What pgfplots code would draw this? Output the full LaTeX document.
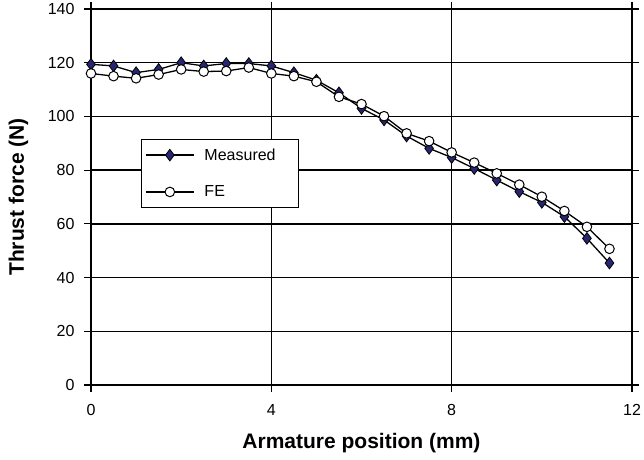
\documentclass[border=0pt]{standalone}
\usepackage{fontspec}
\setmainfont{Liberation Sans}
\usepackage{pgfplots}
\pgfplotsset{compat=1.18}
\definecolor{navy}{HTML}{262673}

\begin{document}
\begin{tikzpicture}
\begin{axis}[
  name=ax,
  scale only axis,
  width=541pt, height=376pt,
  xmin=0, xmax=12, ymin=0, ymax=140,
  xtick={0,4,8,12},
  ytick={0,20,...,140},
  grid=major,
  grid style={black, line width=1.3pt},
  axis line style={black, line width=1.3pt},
  tick align=outside,
  major tick length=7pt,
  tick style={black, line width=1.2pt},
  /pgf/number format/assume math mode=true,
  ticklabel style={font=\fontsize{16}{19}\selectfont},
  xticklabel style={yshift=-9pt},
  yticklabel style={xshift=-6pt},
  xlabel={Armature position (mm)},
  ylabel={Thrust force (N)},
  label style={font=\bfseries\fontsize{21}{24}\selectfont},
  xlabel style={at={(axis description cs:0.5,-0.154)}, anchor=center},
  ylabel style={at={(axis description cs:-0.134,0.5)}, anchor=center},
  legend style={
    at={(axis cs:1.1,91.6)}, anchor=north west,
    draw=black, line width=1.2pt,
    font=\fontsize{16}{19}\selectfont,
    inner xsep=4pt, inner ysep=7pt,
    row sep=20pt, column sep=8pt,
    nodes={inner sep=2pt},
  },
  legend cell align=left,
  legend image code/.code={
    \draw[mark repeat=2, mark phase=2] plot coordinates {(0pt,0pt) (24pt,0pt) (48pt,0pt)};
  },
]
% measured thrust force
\addplot[black, line width=1.3pt, mark=diamond*, mark size=5.8pt,
         mark options={fill=navy, draw=black, line width=0.8pt}]
  coordinates {
  (0,119.4) (0.5,118.8) (1,116.3) (1.5,117.5) (2,120.0) (2.5,118.8)
  (3,119.7) (3.5,119.7) (4,118.8) (4.5,116.3) (5,113.5) (5.5,108.8)
  (6,103.0) (6.5,98.7) (7,92.7) (7.5,88.1) (8,84.7) (8.5,80.6)
  (9,76.3) (9.5,72.0) (10,68.0) (10.5,62.7) (11,54.6) (11.5,45.4)
  };
\addlegendentry{\makebox[88pt][l]{Measured}}
% finite element prediction
\addplot[black, line width=1.3pt, mark=*, mark size=4.8pt,
         mark options={fill=white, draw=black, line width=1pt}]
  coordinates {
  (0,116.0) (0.5,115.0) (1,114.2) (1.5,115.6) (2,117.5) (2.5,116.7)
  (3,116.9) (3.5,118.2) (4,116.0) (4.5,115.0) (5,112.9) (5.5,107.3)
  (6,104.6) (6.5,100.1) (7,93.7) (7.5,90.8) (8,86.6) (8.5,82.8)
  (9,78.8) (9.5,74.6) (10,70.1) (10.5,64.8) (11,58.9) (11.5,50.7)
  };
\addlegendentry{\makebox[88pt][l]{FE}}
\end{axis}
\pgfresetboundingbox
\path[use as bounding box] ([shift={(-91pt,-74pt)}]ax.south west) rectangle ([shift={(12pt,9pt)}]ax.north east);
\end{tikzpicture}
\end{document}
